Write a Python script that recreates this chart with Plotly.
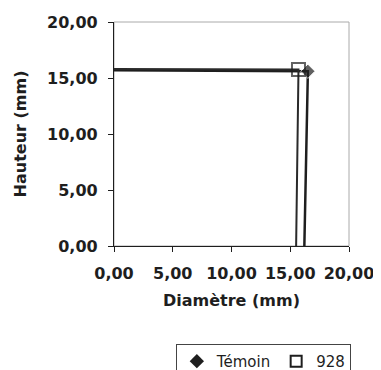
import plotly.graph_objects as go

# --- data ---
temoin_x = [0.0, 16.5, 16.2]
temoin_y = [15.7, 15.6, 0.0]
s928_x = [0.0, 15.7, 15.5]
s928_y = [15.8, 15.75, 0.0]
tick_vals = [0, 5, 10, 15, 20]

font = "DejaVu Sans, sans-serif"
ink = "#1e1e1e"

fig = go.Figure()
fig.add_trace(go.Scatter(x=temoin_x, y=temoin_y, name="Témoin", mode="lines+markers",
                         line=dict(color=ink, width=2.5), showlegend=False,
                         marker=dict(symbol="diamond", size=[0, 11, 0], color=ink)))
fig.add_trace(go.Scatter(x=s928_x, y=s928_y, name="928", mode="lines+markers",
                         line=dict(color="#2a2a2a", width=2), showlegend=False,
                         marker=dict(symbol="square-open", size=[0, 13, 0], color=ink,
                                     line=dict(width=2))))
# legend entries show only the marker, as in the original
fig.add_trace(go.Scatter(x=[None], y=[None], name="Témoin", mode="markers",
                         marker=dict(symbol="diamond", size=11, color=ink)))
fig.add_trace(go.Scatter(x=[None], y=[None], name="928", mode="markers",
                         marker=dict(symbol="square-open", size=11, color=ink, line=dict(width=2))))

# light frame around the plot area (top / right)
fig.add_shape(type="rect", xref="paper", yref="paper", x0=0, y0=0, x1=1, y1=1,
              line=dict(color="#aaa", width=1), layer="below")

axis_common = dict(range=[0, 20], tickvals=tick_vals, tickformat=".2f", automargin=False,
                   showgrid=False, zeroline=False, showline=True, linecolor=ink,
                   linewidth=1.2, ticks="outside", ticklen=5, tickcolor=ink,
                   tickfont=dict(family=font, size=16, color=ink, weight="bold"))

fig.update_xaxes(**axis_common, ticklabelstandoff=8,
                 title=dict(text="<b>Diamètre (mm)</b>", font=dict(family=font, size=16, color=ink),
                            standoff=12))
fig.update_yaxes(**axis_common, ticklabelstandoff=7,
                 title=dict(text="<b>Hauteur (mm)</b>", font=dict(family=font, size=16, color=ink),
                            standoff=16))

# the page body adds an 8px margin, so the figure is sized to fit inside it
fig.update_layout(
    width=373, height=362,
    margin=dict(l=106, r=32, t=14, b=124),
    paper_bgcolor="white", plot_bgcolor="white",
    separators=", ",
    font=dict(family=font, color=ink),
    legend=dict(orientation="h", xref="container", yref="container",
                x=0.45, y=0.072, xanchor="left", yanchor="top",
                bordercolor="#444", borderwidth=1, font=dict(family=font, size=15, color=ink),
                itemwidth=30, tracegroupgap=0),
)

fig.write_html("out.html")
